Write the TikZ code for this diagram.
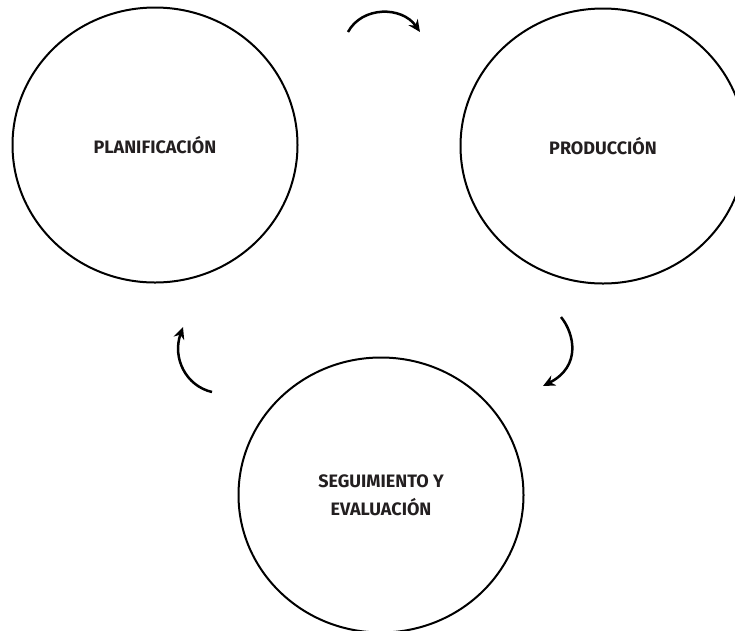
\documentclass[tikz,border=0pt]{standalone}
\usepackage{fontspec}
\setmainfont{Fira Sans}
\usetikzlibrary{arrows.meta,shapes.geometric}
\definecolor{labelgray}{HTML}{231F20}
\begin{document}
\begin{tikzpicture}[x=1pt,y=-1pt,
  stage/.style={draw=black, line width=2pt, ellipse, minimum width=285pt, minimum height=275pt, inner sep=0pt,
    font=\bfseries\fontsize{18}{28}\selectfont, text=labelgray, align=center},
  flow/.style={draw=black, line width=2.5pt, -{Stealth[length=12pt,width=11pt]}}]
\useasboundingbox (0,0) rectangle (735,630);
\clip (0,0) rectangle (735,630);
\node[stage] (plan) at (155,145) {PLANIFICACIÓN};
\node[stage] (prod) at (603,146) {PRODUCCIÓN};
\node[stage] (seg) at (381,495) {SEGUIMIENTO Y\\EVALUACIÓN};
\coordinate (a1s) at (348,32);
\coordinate (a1e) at (420,32);
\coordinate (a2s) at (561,317);
\coordinate (a2e) at (543,386);
\coordinate (a3s) at (212,392);
\coordinate (a3e) at (183,327);
\draw[flow] (a1s) .. controls (362,6) and (402,6) .. (a1e);
\draw[flow] (a2s) .. controls (574,333) and (582,366) .. (a2e);
\draw[flow] (a3s) .. controls (186,386) and (172,358) .. (a3e);
\end{tikzpicture}
\end{document}
